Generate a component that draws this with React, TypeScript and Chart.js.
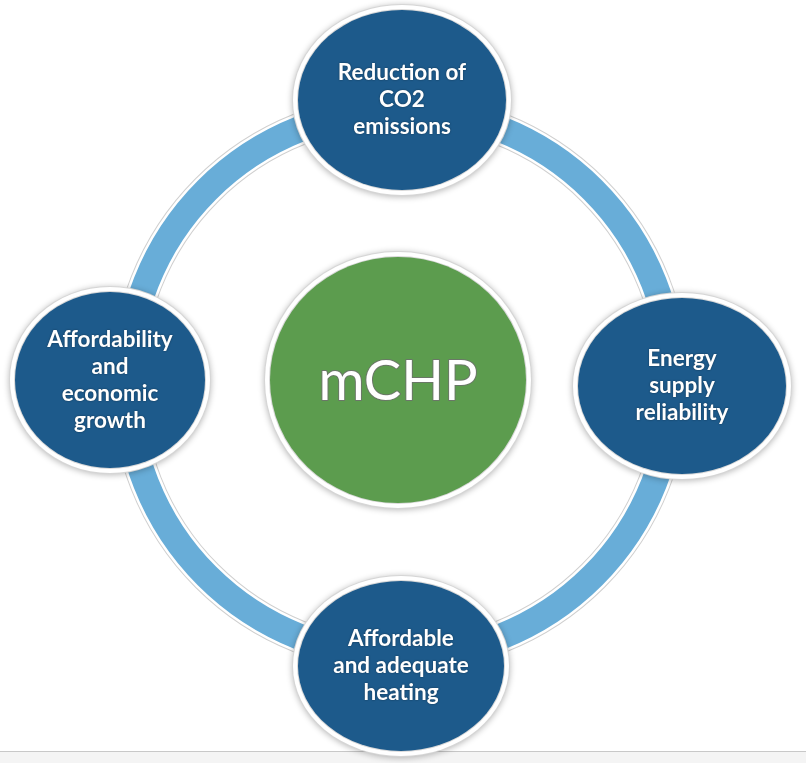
import React, { useEffect, useRef } from "react";
import { Chart, registerables } from "chart.js";

Chart.register(...registerables);

// ---- diagram data (data units = pixels, centre of ring at 0,0, y up) ----
const nodeLabels = [
  "Reduction of\nCO2\nemissions",
  "Energy\nsupply\nreliability",
  "Affordable\nand adequate\nheating",
  "Affordability\nand\neconomic\ngrowth",
];
const nodeX = [2, 282, 1, -290];
const nodeY = [283, -3, -283, 3];
const nodeRx = [104, 104, 103, 95];
const nodeRy = [90, 88, 85, 88];

const hubLabel = "mCHP";
const hubX = [-2];
const hubY = [3];
const hubRx = [128];
const hubRy = [123];

const ringX = [0];
const ringY = [0];
const ringRadius = [273];
const ringWidth = [26];

const W = 806;
const H = 763;

function ellipsePath(ctx: CanvasRenderingContext2D, x: number, y: number, rx: number, ry: number) {
  ctx.beginPath();
  ctx.ellipse(x, y, Math.max(rx, 0), Math.max(ry, 0), 0, 0, Math.PI * 2);
}

const diagramPlugin = {
  id: "diagram",
  beforeDraw(chart: any) {
    const ctx: CanvasRenderingContext2D = chart.ctx;
    ctx.save();
    ctx.fillStyle = "#ffffff";
    ctx.fillRect(0, 0, chart.width, chart.height);
    ctx.fillStyle = "#f4f4f4";
    ctx.fillRect(0, chart.height - 11, chart.width, 11);
    ctx.fillStyle = "#c8c8c8";
    ctx.fillRect(0, chart.height - 12, chart.width, 1);
    ctx.restore();
  },
  afterDatasetsDraw(chart: any) {
    const ctx: CanvasRenderingContext2D = chart.ctx;
    const xs = chart.scales.x;
    const ys = chart.scales.y;
    const dx = (v: number) => Math.abs(xs.getPixelForValue(v) - xs.getPixelForValue(0));
    const dy = (v: number) => Math.abs(ys.getPixelForValue(v) - ys.getPixelForValue(0));

    // ring
    const ringMeta = chart.getDatasetMeta(0);
    ringMeta.data.forEach((el: any, i: number) => {
      const r = dx(ringRadius[i]);
      const w = dx(ringWidth[i]);
      ctx.save();
      ctx.beginPath();
      ctx.arc(el.x, el.y, r, 0, Math.PI * 2);
      ctx.strokeStyle = "#cfcfcf";
      ctx.lineWidth = w + 7;
      ctx.stroke();
      ctx.strokeStyle = "#ffffff";
      ctx.lineWidth = w + 5;
      ctx.stroke();
      ctx.strokeStyle = "#68add8";
      ctx.lineWidth = w;
      ctx.stroke();
      ctx.restore();
    });

    const drawBubble = (x: number, y: number, rx: number, ry: number, fill: string) => {
      ctx.save();
      ctx.shadowColor = "rgba(0,0,0,0.28)";
      ctx.shadowBlur = 6;
      ctx.shadowOffsetY = 1;
      ellipsePath(ctx, x, y, rx + 6, ry + 6);
      ctx.fillStyle = "#d6d6d6";
      ctx.fill();
      ctx.restore();
      ctx.save();
      ellipsePath(ctx, x, y, rx + 5, ry + 5);
      ctx.fillStyle = "#ffffff";
      ctx.fill();
      ellipsePath(ctx, x, y, rx + 1, ry + 1);
      ctx.fillStyle = "#d9d9d9";
      ctx.fill();
      ellipsePath(ctx, x, y, rx, ry);
      ctx.fillStyle = fill;
      ctx.fill();
      ctx.restore();
    };

    // hub
    const hubMeta = chart.getDatasetMeta(1);
    hubMeta.data.forEach((el: any, i: number) => {
      drawBubble(el.x, el.y, dx(hubRx[i]), dy(hubRy[i]), "#5c9c4e");
      ctx.save();
      ctx.font = "400 56px Lato, 'Open Sans', sans-serif";
      ctx.textAlign = "center";
      ctx.textBaseline = "middle";
      ctx.lineJoin = "round";
      ctx.strokeStyle = "rgba(110,110,110,0.8)";
      ctx.lineWidth = 2;
      ctx.strokeText(hubLabel, el.x, el.y + 2);
      ctx.fillStyle = "#ffffff";
      ctx.fillText(hubLabel, el.x, el.y + 2);
      ctx.restore();
    });

    // nodes
    const nodeMeta = chart.getDatasetMeta(2);
    nodeMeta.data.forEach((el: any, i: number) => {
      drawBubble(el.x, el.y, dx(nodeRx[i]), dy(nodeRy[i]), "#1d5a8b");
      const lines = nodeLabels[i].split("\n");
      const lh = 27;
      ctx.save();
      ctx.font = "bold 22.5px Lato, 'Open Sans', sans-serif";
      ctx.textAlign = "center";
      ctx.textBaseline = "middle";
      ctx.shadowColor = "rgba(0,0,0,0.45)";
      ctx.shadowBlur = 2;
      ctx.fillStyle = "#ffffff";
      const y0 = el.y - ((lines.length - 1) * lh) / 2;
      lines.forEach((t, k) => ctx.fillText(t, el.x, y0 + k * lh));
      ctx.restore();
    });
  },
};

export default function App() {
  const ref = useRef<HTMLCanvasElement | null>(null);
  useEffect(() => {
    if (!ref.current) return;
    const chart = new Chart(ref.current, {
      type: "scatter",
      data: {
        datasets: [
          { label: "ring", data: ringX.map((x, i) => ({ x, y: ringY[i] })), pointRadius: 0 },
          { label: "hub", data: hubX.map((x, i) => ({ x, y: hubY[i] })), pointRadius: 0 },
          { label: "nodes", data: nodeX.map((x, i) => ({ x, y: nodeY[i] })), pointRadius: 0 },
        ],
      },
      options: {
        responsive: false,
        animation: false,
        layout: { padding: 0 },
        events: [],
        scales: {
          x: { type: "linear", min: -400, max: 406, display: false },
          y: { type: "linear", min: -380, max: 383, display: false },
        },
        plugins: {
          legend: { display: false },
          tooltip: { enabled: false },
        },
      },
      plugins: [diagramPlugin],
    });
    return () => chart.destroy();
  }, []);
  return (
    <div style={{ position: "absolute", left: 0, top: 0, width: W, height: H }}>
      <canvas ref={ref} width={W} height={H} style={{ display: "block" }} />
    </div>
  );
}
